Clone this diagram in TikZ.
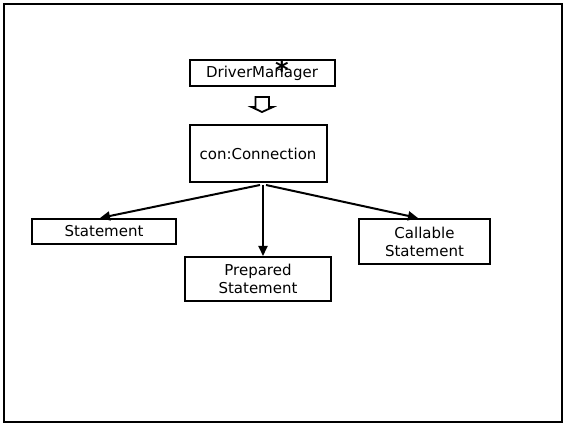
\documentclass[tikz,border=0pt]{standalone}
\usepackage{fontspec}
\setmainfont{DejaVu Sans}
\usetikzlibrary{arrows.meta,calc}
\begin{document}
\begin{tikzpicture}[x=1pt,y=-1pt,
  box/.style={draw,line width=2pt,inner sep=0pt,font=\fontsize{15}{18}\selectfont,align=center},
  link/.style={line width=2pt,-{Triangle[length=10pt,width=9pt]}}]
  % page frame
  \useasboundingbox (0,0) rectangle (565,427);
  \draw[line width=2pt] (4,4) rectangle (562,422);

  % classes
  \node[box,minimum width=145pt,minimum height=26pt] (dm) at (262,73) {DriverManager};
  \node[box,minimum width=137pt,minimum height=57pt] (con) at (258,154) {con:Connection};
  \node[box,minimum width=144pt,minimum height=25pt] (st) at (104,231.5) {Statement};
  \node[box,minimum width=146pt,minimum height=44pt] (ps) at (258,279) {Prepared\\Statement};
  \node[box,minimum width=131pt,minimum height=45pt] (cs) at (424.5,241.5) {Callable\\Statement};

  % multiplicity star
  \node[font=\fontsize{26}{26}\selectfont\bfseries,inner sep=0pt] (star) at (282,69.5) {*};

  % hollow block arrow between DriverManager and Connection
  \coordinate (ha) at (262,97);
  \draw[line width=1.8pt,fill=white,line join=miter]
    ($(ha)+(-6.5,0)$) -- ++(0,10) -- ++(-4,0) -- (262,112) -- (273,107) -- ++(-4,0) -- ++(0,-10) -- cycle;

  % associations from Connection
  \coordinate (c1) at (260,185);
  \coordinate (c2) at (263,185);
  \coordinate (c3) at (266,185);
  \coordinate (t1) at (100,218);
  \coordinate (t2) at (263,256);
  \coordinate (t3) at (418,218);
  \draw[link] (c1) -- (t1);
  \draw[link] (c2) -- (t2);
  \draw[link] (c3) -- (t3);
\end{tikzpicture}
\end{document}
